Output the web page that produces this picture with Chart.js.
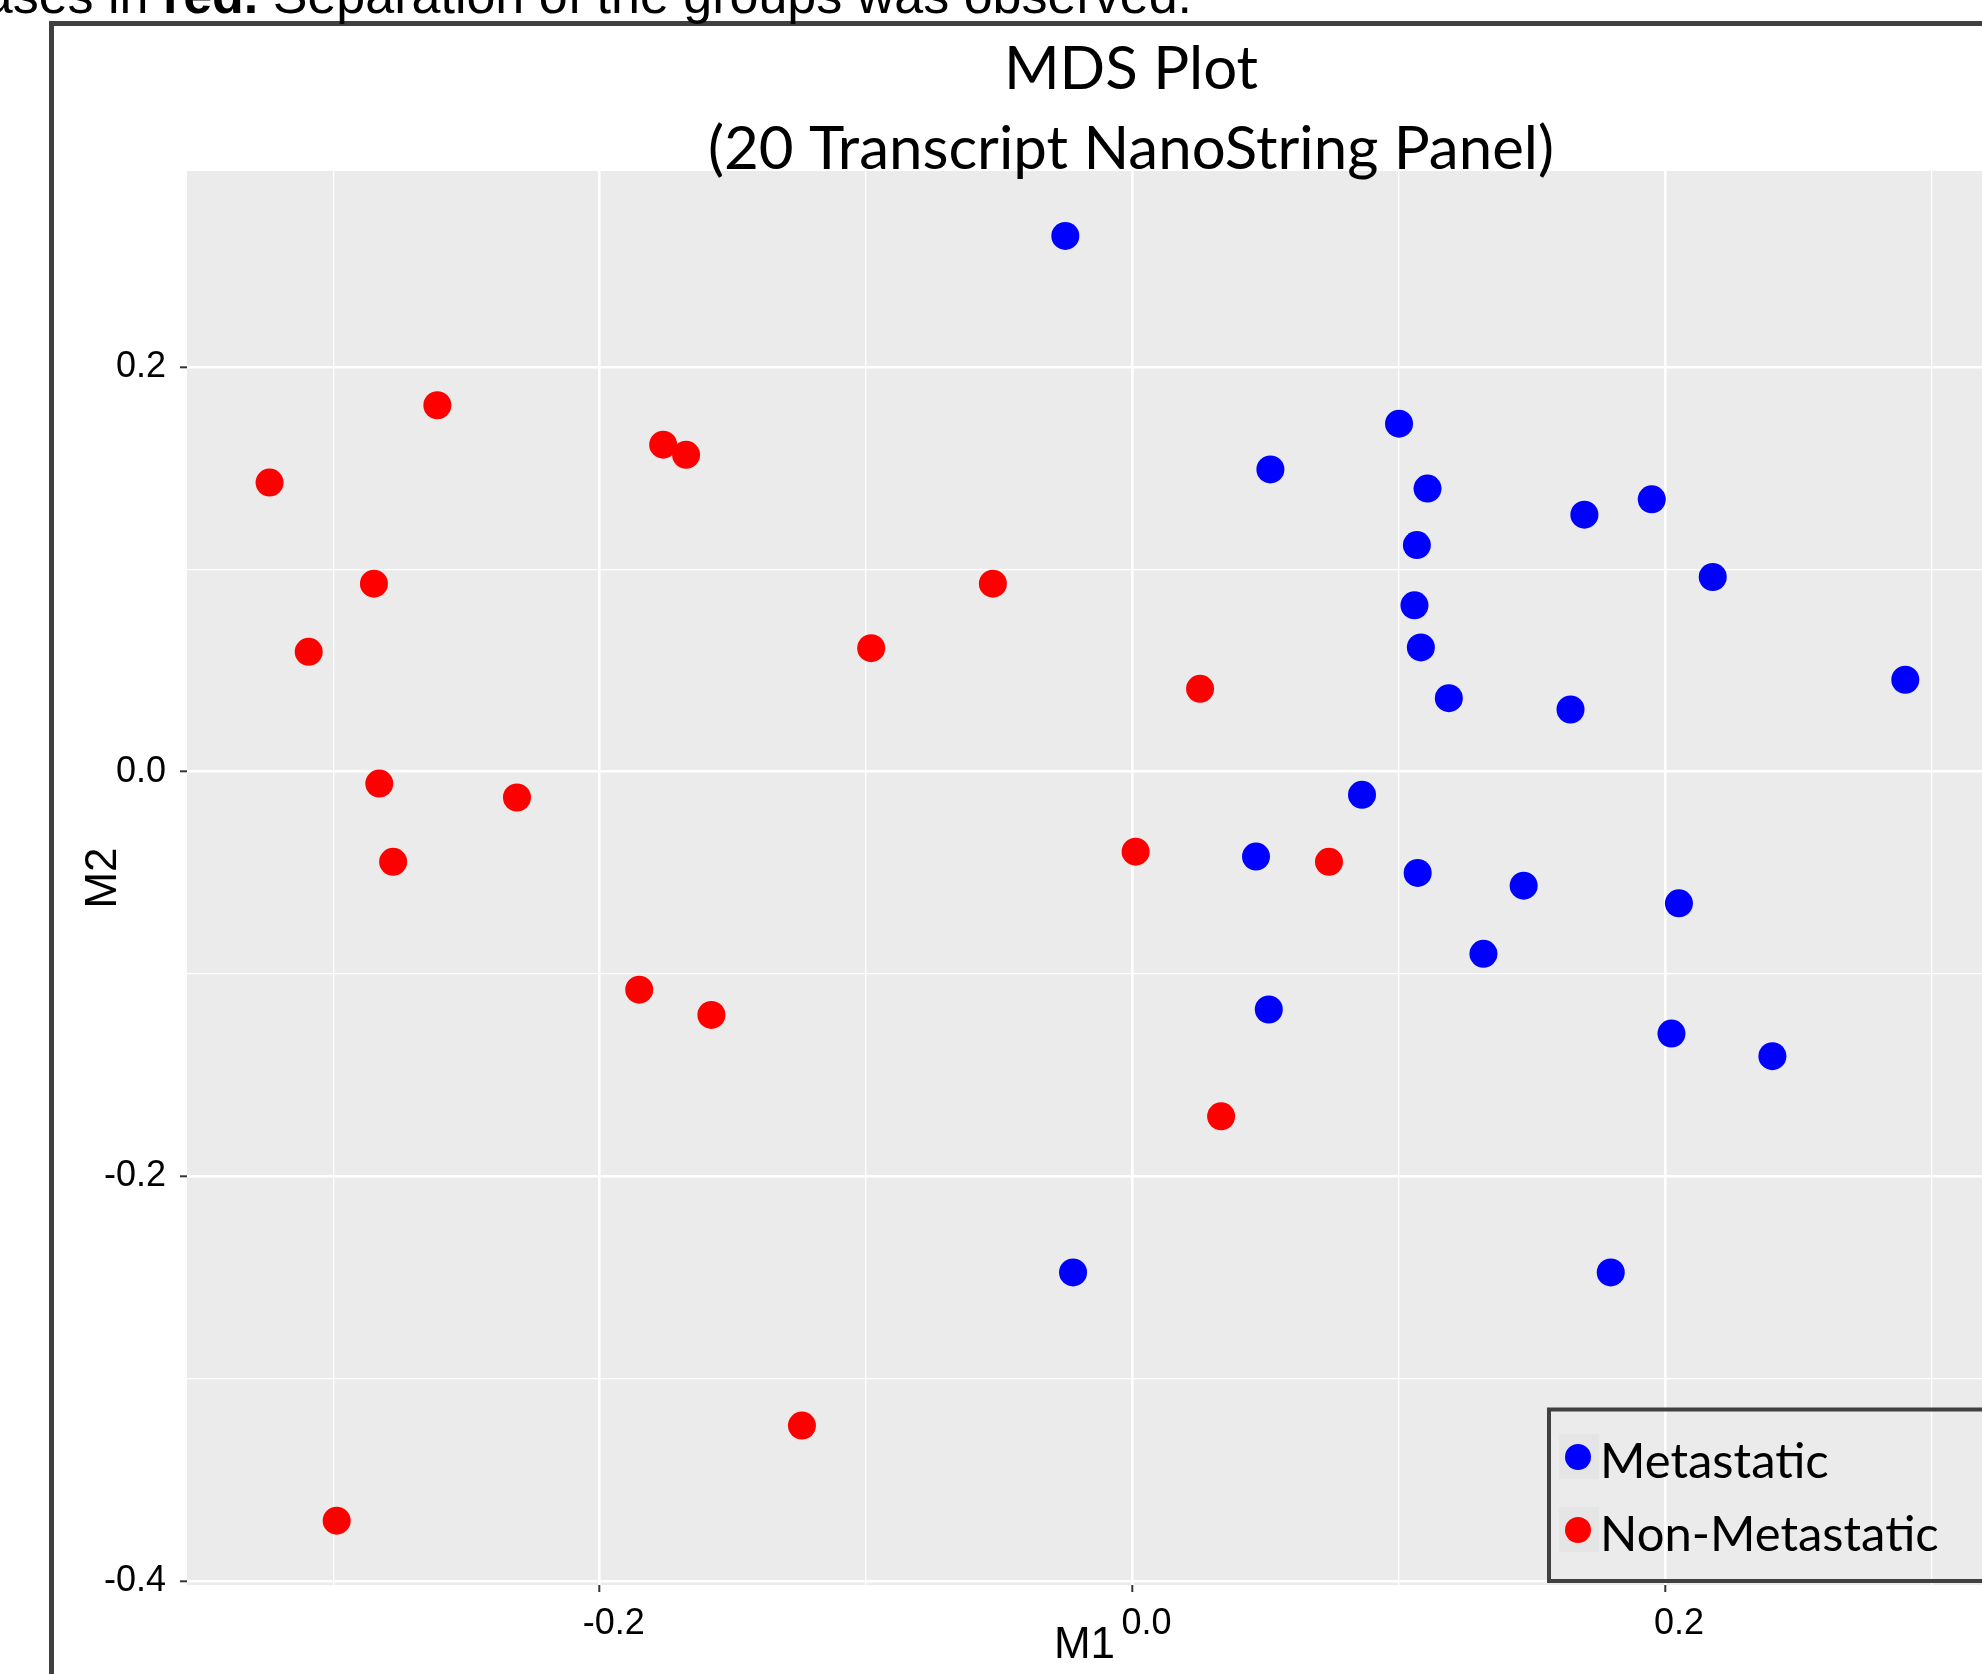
<!DOCTYPE html>
<html>
<head>
<meta charset="utf-8">
<title>MDS Plot</title>
<script src="https://cdn.jsdelivr.net/npm/chart.js@4.4.1/dist/chart.umd.min.js"></script>
<style>
  html, body { margin: 0; padding: 0; background: #fff; }
  #wrap { width: 1982px; height: 1674px; }
</style>
</head>
<body>
<div id="wrap"><canvas id="mds" width="1982" height="1674"></canvas></div>
<script>
// series (M1 = x, M2 = y)
const seriesNames = ['Metastatic', 'Non-Metastatic'];
const seriesColors = ['#0000ff', '#ff0000'];

const metM1 = [-0.0252, 0.1001, 0.0518, 0.1108, 0.1697, 0.1950, 0.1068, 0.2179,
  0.1059, 0.1083, 0.1188, 0.1645, 0.2902, 0.0862, 0.0464, 0.1071, 0.1469, 0.2052,
  0.1318, 0.0512, 0.2024, 0.2403, -0.0223, 0.1796];
const metM2 = [0.2649, 0.1721, 0.1495, 0.1400, 0.1271, 0.1347, 0.1121, 0.0963,
  0.0823, 0.0615, 0.0364, 0.0308, 0.0455, -0.0114, -0.0419, -0.0500, -0.0563, -0.0650,
  -0.0900, -0.1175, -0.1294, -0.1406, -0.2475, -0.2475];

const nonM1 = [-0.2610, -0.3240, -0.2848, -0.3093, -0.2828, -0.2776, -0.2311, -0.1762,
  -0.1676, -0.0524, -0.0981, 0.0254, 0.0012, 0.0738, -0.1852, -0.1581, 0.0333,
  -0.1241, -0.2988];
const nonM2 = [0.1812, 0.1430, 0.0930, 0.0593, -0.0058, -0.0445, -0.0127, 0.1617,
  0.1567, 0.0930, 0.0611, 0.0410, -0.0395, -0.0445, -0.1077, -0.1202, -0.1703,
  -0.3232, -0.3702];

const titleLines = ['MDS Plot', '(20 Transcript NanoString Panel)'];
const captionParts = [['cases in ', false], ['red.', true], [' Separation of the groups was observed.', false]];
const xTitle = 'M1';
const yTitle = 'M2';

const zip = (xs, ys) => xs.map((x, i) => ({ x: x, y: ys[i] }));
const isMajor = v => Math.abs(Math.round(v * 10)) % 2 === 0;
const tickLabel = v => isMajor(v) ? (Math.round(v * 10) / 10).toFixed(1) : '';

const tickFont = { family: 'Liberation Sans', size: 36 };
const axisTitleFont = { family: 'Liberation Sans', size: 44 };

const ggplotLook = {
  id: 'ggplotLook',
  beforeDraw(chart) {
    const { ctx, chartArea: a } = chart;
    ctx.save();
    ctx.fillStyle = '#fff';
    ctx.fillRect(0, 0, chart.width, chart.height);
    // outer frame of the figure
    ctx.strokeStyle = '#404040';
    ctx.lineWidth = 5;
    ctx.beginPath();
    ctx.moveTo(51.5, chart.height + 5);
    ctx.lineTo(51.5, 23.5);
    ctx.lineTo(chart.width + 5, 23.5);
    ctx.stroke();
    // panel
    ctx.fillStyle = '#ebebeb';
    ctx.fillRect(a.left, a.top, a.right - a.left, a.bottom - a.top);
    ctx.restore();
  },
  afterDraw(chart) {
    const { ctx } = chart;
    ctx.save();
    ctx.fillStyle = '#000';
    ctx.textBaseline = 'alphabetic';

    // caption line cut off at the top
    const capFont = b => (b ? 'bold ' : '') + '52px "Liberation Sans"';
    let total = 0;
    captionParts.forEach(([t, b]) => {
      ctx.font = capFont(b);
      total += ctx.measureText(t).width;
    });
    let cx = 1192 - total;
    ctx.textAlign = 'left';
    captionParts.forEach(([t, b]) => {
      ctx.font = capFont(b);
      ctx.fillText(t, cx, 13);
      cx += ctx.measureText(t).width;
    });

    // title
    ctx.textAlign = 'center';
    ctx.font = '60px Lato';
    ctx.fillText(titleLines[0], 1131, 89);
    ctx.fillText(titleLines[1], 1131, 169);

    // legend
    const lx = 1549, ly = 1409.5, lb = 1581;
    ctx.strokeStyle = '#404040';
    ctx.lineWidth = 4;
    ctx.beginPath();
    ctx.moveTo(chart.width + 5, ly);
    ctx.lineTo(lx, ly);
    ctx.lineTo(lx, lb);
    ctx.lineTo(chart.width + 5, lb);
    ctx.stroke();

    chart.data.datasets.forEach((ds, i) => {
      const cy = 1457 + i * 73;
      ctx.fillStyle = '#e5e5e5';
      ctx.fillRect(1559, cy - 23, 40, 45);
      ctx.fillStyle = ds.backgroundColor;
      ctx.beginPath();
      ctx.arc(1578, cy, 13, 0, Math.PI * 2);
      ctx.fill();
      ctx.fillStyle = '#000';
      ctx.textAlign = 'left';
      ctx.font = '49px Lato';
      ctx.fillText(ds.label, 1600, cy + 21);
    });
    ctx.restore();
  }
};

new Chart(document.getElementById('mds'), {
  type: 'scatter',
  data: {
    datasets: [
      { label: seriesNames[0], data: zip(metM1, metM2), backgroundColor: seriesColors[0] },
      { label: seriesNames[1], data: zip(nonM1, nonM2), backgroundColor: seriesColors[1] }
    ]
  },
  options: {
    responsive: false,
    devicePixelRatio: 1,
    animation: false,
    layout: { autoPadding: false, padding: { top: 171, left: 0, right: 0, bottom: 0 } },
    elements: { point: { radius: 14, hoverRadius: 14, borderWidth: 0 } },
    plugins: { legend: { display: false }, tooltip: { enabled: false } },
    scales: {
      x: {
        type: 'linear',
        min: -0.355,
        max: 0.319,
        afterFit: axis => { axis.height = 89; },
        border: { display: false },
        grid: {
          color: '#ffffff',
          lineWidth: c => isMajor(c.tick.value) ? 2.6 : 1.3,
          tickLength: 7,
          tickWidth: 2,
          tickColor: c => isMajor(c.tick.value) ? '#333333' : 'rgba(0,0,0,0)'
        },
        ticks: {
          stepSize: 0.1,
          includeBounds: false,
          autoSkip: false,
          maxRotation: 0,
          labelOffset: 14,
          padding: 10,
          color: '#000',
          font: tickFont,
          callback: v => tickLabel(v)
        },
        title: { display: true, text: xTitle, color: '#000', font: axisTitleFont, padding: { top: 0, bottom: 2 } }
      },
      y: {
        type: 'linear',
        min: -0.402,
        max: 0.297,
        afterFit: axis => { axis.width = 187; },
        border: { display: false },
        grid: {
          color: '#ffffff',
          lineWidth: c => isMajor(c.tick.value) ? 2.6 : 1.3,
          tickLength: 7,
          tickWidth: 2,
          tickColor: c => isMajor(c.tick.value) ? '#333333' : 'rgba(0,0,0,0)'
        },
        ticks: {
          stepSize: 0.1,
          includeBounds: false,
          autoSkip: false,
          padding: 14,
          color: '#000',
          font: tickFont,
          callback: v => tickLabel(v)
        },
        title: { display: true, text: yTitle, color: '#000', font: axisTitleFont, padding: { top: 77, bottom: 0 } }
      }
    }
  },
  plugins: [ggplotLook]
});
</script>
</body>
</html>
